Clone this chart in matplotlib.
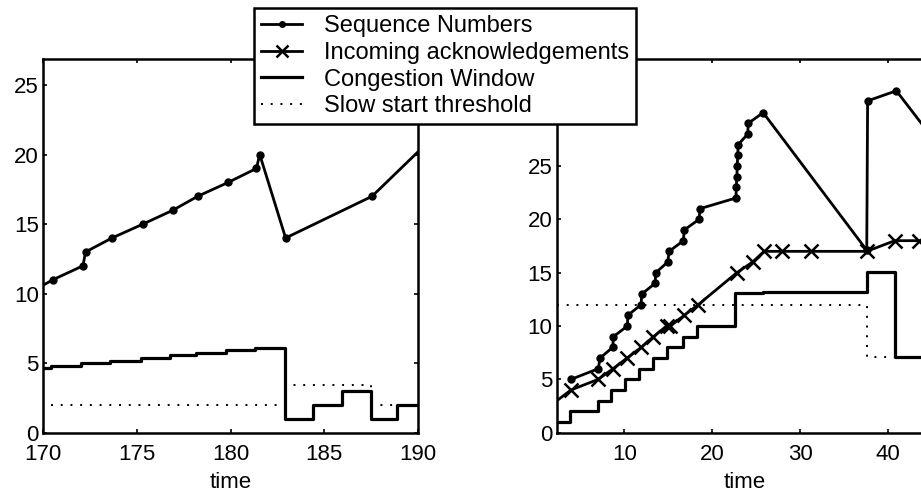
import matplotlib
matplotlib.use("Agg")
import matplotlib.pyplot as plt

plt.rcParams['font.family'] = ['Liberation Sans', 'DejaVu Sans']
plt.rcParams['font.size'] = 16

# left panel (time 170-190)
seq_t_left = [169.2, 170.53, 172.13, 172.27, 173.68, 175.33, 176.93, 178.25,
              179.88, 181.38, 181.56, 182.94, 187.55, 191.0]
seq_left = [10, 11, 12, 13, 14, 15, 16, 17, 18, 19, 20, 14, 17, 21.5]

cwnd_t_left = [169.5, 170.44, 172.0, 173.56, 175.24, 176.76, 178.18, 179.75,
               181.29, 182.89, 184.4, 185.95, 187.48, 188.88, 191.0]
cwnd_left = [4.64, 4.81, 5.0, 5.19, 5.38, 5.57, 5.76, 5.95, 6.1, 1, 2, 3, 1, 2, 2]

ssth_t_left = [170.44, 182.89, 187.48, 191.0]
ssth_left = [2, 3.45, 2, 2]

# right panel (time 2-45)
seq_t_right = [3.91, 7.02, 7.22, 8.66, 8.74, 10.33, 10.38, 11.89, 11.97, 13.49,
               13.57, 14.93, 15.09, 16.72, 16.8, 18.5, 18.6, 22.7, 22.74, 22.8,
               22.85, 22.9, 22.95, 24.05, 24.1, 25.8, 37.6, 37.7, 40.97, 45.5]
seq_right = [5, 6, 7, 8, 9, 10, 11, 12, 13, 14, 15, 16, 17, 18, 19, 20, 21, 22,
             23, 24, 25, 26, 27, 28, 29, 30, 17.1, 31.1, 32.05, 27.2]

ack_t_right = [1.5, 3.9, 7.0, 8.7, 10.3, 11.9, 13.3, 14.8, 15.2, 16.8, 18.4,
               22.8, 24.6, 25.9, 28.0, 31.3, 37.6, 40.8, 43.6, 46.5]
ack_right = [2.5, 4, 5, 6, 7, 8, 9, 10, 10, 11, 12, 15, 16, 17, 17, 17, 17, 18,
             18, 18]

cwnd_t_right = [2.28, 3.8, 7.0, 8.5, 10.1, 11.7, 13.3, 14.8, 16.7, 18.3, 22.6,
                25.8, 37.6, 40.85, 46.0]
cwnd_right = [1, 2, 3, 4, 5, 6, 7, 8, 9, 10, 13.06, 13.2, 15.1, 7.07, 7.07]

ssth_t_right = [2.28, 37.6, 46.0]
ssth_right = [12, 7.07, 7.07]

W, H = 921, 493
fig = plt.figure(figsize=(W / 100, H / 100), dpi=100)

ax1 = fig.add_axes([43 / W, 1 - 432.7 / H, 375 / W, (432.7 - 59.3) / H])
ax2 = fig.add_axes([556.7 / W, 1 - 432.7 / H, 375 / W, (432.7 - 59.3) / H])

lw = 2.0
for ax, st, sv, ct, cv, tt, tv in [
        (ax1, seq_t_left, seq_left, cwnd_t_left, cwnd_left, ssth_t_left, ssth_left),
        (ax2, seq_t_right, seq_right, cwnd_t_right, cwnd_right, ssth_t_right, ssth_right)]:
    ax.plot(st, sv, color='black', lw=lw, marker='o', ms=5,
            label='Sequence Numbers')
    ax.plot(ct, cv, color='black', lw=lw + 0.3, drawstyle='steps-post',
            label='Congestion Window')
    ax.plot(tt, tv, color='black', lw=1.4, linestyle=(0, (1, 4)),
            drawstyle='steps-post', label='Slow start threshold')

# acknowledgements only shown on the right panel
ax2.plot(ack_t_right, ack_right, color='black', lw=lw, marker='x', ms=10,
         mew=1.8, label='Incoming acknowledgements')

ax1.set_xlim(170, 190)
ax1.set_ylim(0, 26.85)
ax1.set_xticks([170, 175, 180, 185, 190])
ax1.set_yticks([0, 5, 10, 15, 20, 25])

ax2.set_xlim(2.28, 45.0)
ax2.set_ylim(0, 35)
ax2.set_xticks([10, 20, 30, 40])
# 30 and 35 sit behind the legend box
ax2.set_yticks([0, 5, 10, 15, 20, 25, 30, 35])
ax2.set_yticklabels(['0', '5', '10', '15', '20', '25', '', ''])

for ax in (ax1, ax2):
    ax.set_xlabel('time', labelpad=5)
    ax.tick_params(direction='in', top=True, right=True, length=3, width=1.2,
                   pad=3, labelsize=16)
    ax.tick_params(axis='x', pad=8)
    for s in ax.spines.values():
        s.set_linewidth(1.8)

# legend built from the right panel handles
h = {l.get_label(): l for l in ax2.get_lines()}
order = ['Sequence Numbers', 'Incoming acknowledgements', 'Congestion Window',
         'Slow start threshold']
leg = fig.legend([h[k] for k in order], order, loc='upper left',
                 bbox_to_anchor=(254 / W, 1 - 8 / H), bbox_transform=fig.transFigure,
                 borderaxespad=0, fancybox=False, framealpha=1, edgecolor='black',
                 fontsize=17, handlelength=1.75, handletextpad=0.9,
                 labelspacing=0.2, borderpad=0.3, markerscale=0.8)
leg.get_frame().set_linewidth(1.8)

fig.savefig('out.png', dpi=100)
